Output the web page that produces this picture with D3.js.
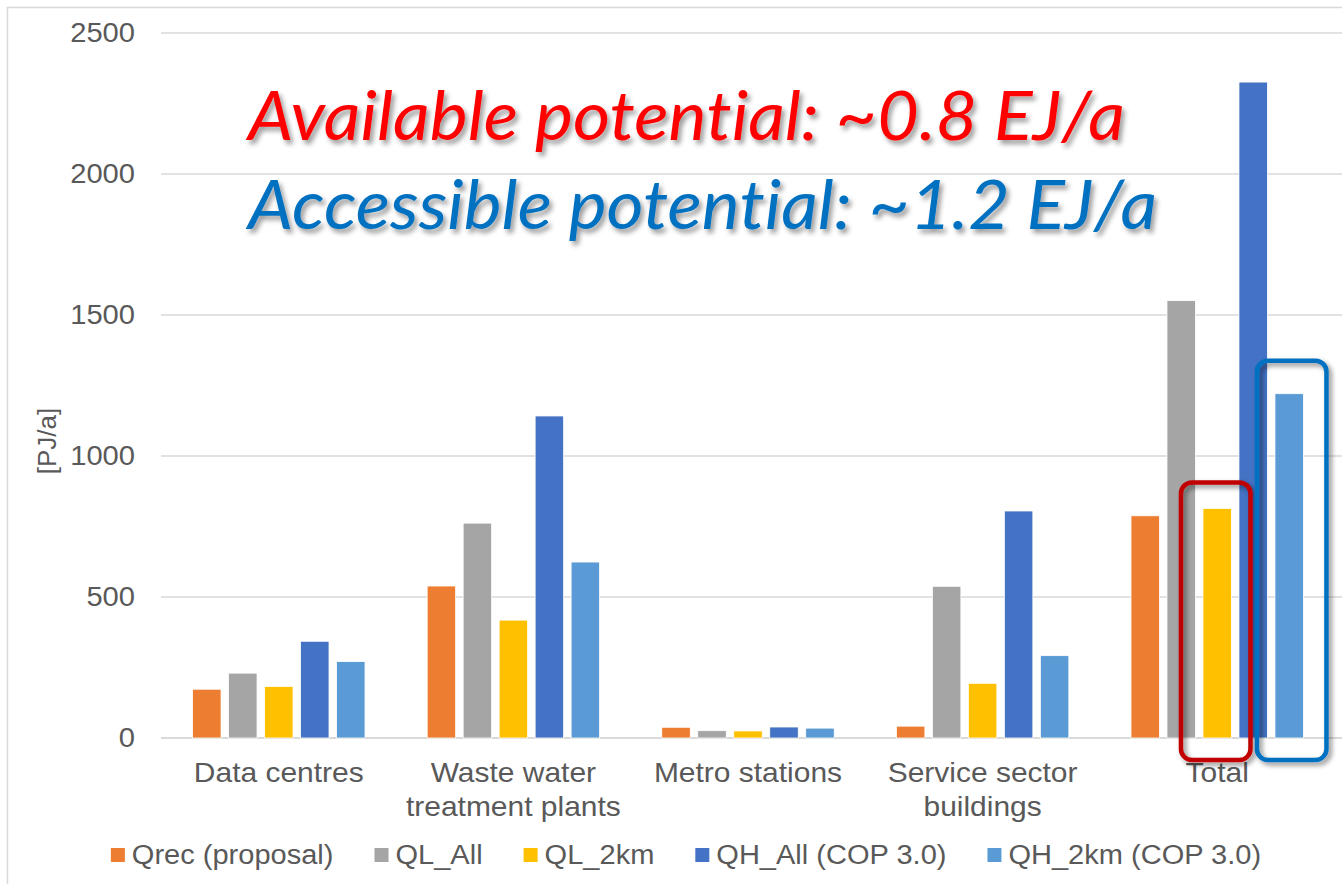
<!DOCTYPE html>
<html>
<head>
<meta charset="utf-8">
<script src="https://cdn.jsdelivr.net/npm/d3@7"></script>
<style>
  html, body { margin: 0; padding: 0; background: #ffffff; }
  svg { display: block; }
  text { font-variant-ligatures: none; }
</style>
</head>
<body>
<svg id="chart" width="1342" height="884"></svg>
<script>
// Heat source categories and series (PJ/a)
const categories = ["Data centres", "Waste water\ntreatment plants", "Metro stations", "Service sector\nbuildings", "Total"];
const seriesNames = ["Qrec (proposal)", "QL_All", "QL_2km", "QH_All (COP 3.0)", "QH_2km (COP 3.0)"];
const seriesColors = ["#ED7D31", "#A5A5A5", "#FFC000", "#4472C4", "#5B9BD5"];
const qrec   = [173, 539, 38, 42, 788];
const qlAll  = [230, 762, 26, 538, 1551];
const ql2km  = [183, 418, 25, 194, 814];
const qhAll  = [343, 1142, 39, 805, 2326];
const qh2km  = [271, 624, 35, 292, 1221];
const yTicks = [0, 500, 1000, 1500, 2000, 2500];
const headlines = [
  { text: "Available potential: ~0.8 EJ/a", color: "#FF0000" },
  { text: "Accessible potential: ~1.2 EJ/a", color: "#0070C0" }
];
// Highlighted bars in the Total group
const highlights = [
  { series: "QL_2km", color: "#C00000", left: 22, right: 19, top: 26 },
  { series: "QH_2km (COP 3.0)", color: "#0070C0", left: 18, right: 23, top: 33 }
];

const seriesValues = [qrec, qlAll, ql2km, qhAll, qh2km];
const rows = categories.map((c, i) => ({
  category: c,
  values: seriesNames.map((s, k) => ({ series: s, value: seriesValues[k][i], color: seriesColors[k] }))
}));

const svg = d3.select("#chart");
const textColor = "#595959";
const font = "'Liberation Sans', Arial, sans-serif";
const stretch = 1.07;   // slightly wide label lettering

// Widen a text element horizontally by a factor
function widen(sel, k) {
  sel.each(function () {
    const len = this.getComputedTextLength();
    d3.select(this).attr("textLength", len * k).attr("lengthAdjust", "spacingAndGlyphs");
  });
}

const defs = svg.append("defs");
const tShadow = defs.append("filter").attr("id", "textShadow")
  .attr("x", "-5%").attr("y", "-30%").attr("width", "110%").attr("height", "160%");
tShadow.append("feDropShadow").attr("dx", 3).attr("dy", 4).attr("stdDeviation", 2.5)
  .attr("flood-color", "#000").attr("flood-opacity", 0.4);
const bShadow = defs.append("filter").attr("id", "boxShadow")
  .attr("x", "-30%").attr("y", "-10%").attr("width", "160%").attr("height", "120%");
bShadow.append("feDropShadow").attr("dx", 3).attr("dy", 3).attr("stdDeviation", 2.5)
  .attr("flood-color", "#000").attr("flood-opacity", 0.45);

// Chart area border
svg.append("rect")
  .attr("x", 7.5).attr("y", 7.5).attr("width", 1400).attr("height", 900)
  .attr("fill", "#fff").attr("stroke", "#D9D9D9").attr("stroke-width", 1.5);

const plotLeft = 161, plotRight = 1335;
const x0 = d3.scaleBand().domain(categories).range([plotLeft, plotRight])
  .paddingInner(0.233).paddingOuter(0.1185);
const x1 = d3.scaleBand().domain(seriesNames).range([0, x0.bandwidth()])
  .paddingInner(0.208).paddingOuter(0.104);
const y = d3.scaleLinear().domain([0, 2500]).range([738, 33]);

// Gridlines
svg.append("g").selectAll("line").data(yTicks).join("line")
  .attr("x1", plotLeft).attr("x2", 1342)
  .attr("y1", d => y(d)).attr("y2", d => y(d))
  .attr("stroke", "#D9D9D9").attr("stroke-width", d => d === 0 ? 2 : 1.5);

// Y axis labels
const yAxis = d3.axisLeft(y).tickValues(yTicks).tickSize(0).tickPadding(0).tickFormat(d3.format("d"));
const yG = svg.append("g").attr("transform", "translate(135,0)").call(yAxis);
yG.select(".domain").remove();
yG.selectAll("text").attr("fill", textColor).attr("font-family", font).attr("font-size", 28);
widen(yG.selectAll("text"), 1.04);

svg.append("text")
  .attr("transform", "translate(56,441) rotate(-90)")
  .attr("text-anchor", "middle").attr("fill", textColor)
  .attr("font-family", font).attr("font-size", 26)
  .text("[PJ/a]");

// Bars
const groups = svg.append("g").selectAll("g").data(rows).join("g")
  .attr("transform", d => `translate(${x0(d.category)},0)`);
groups.selectAll("rect").data(d => d.values).join("rect")
  .attr("x", d => x1(d.series))
  .attr("width", x1.bandwidth())
  .attr("y", d => y(d.value))
  .attr("height", d => y(0) - y(d.value))
  .attr("fill", d => d.color)
  .attr("stroke", "#fff").attr("stroke-width", 0.8);

// Category labels
const xAxis = svg.append("g");
rows.forEach(r => {
  const cxp = x0(r.category) + x0.bandwidth() / 2;
  r.category.split("\n").forEach((l, i) => {
    const t = xAxis.append("text")
      .attr("x", cxp).attr("y", 782 + i * 34)
      .attr("text-anchor", "middle").attr("fill", textColor)
      .attr("font-family", font).attr("font-size", 28)
      .text(l);
    widen(t, stretch);
  });
});

// Highlight frames around the Total 2 km bars
const totalRow = rows[rows.length - 1];
highlights.forEach(h => {
  const v = totalRow.values.find(d => d.series === h.series).value;
  const bx = x0(totalRow.category) + x1(h.series);
  const top = y(v) - h.top;
  svg.append("rect")
    .attr("x", bx - h.left).attr("width", x1.bandwidth() + h.left + h.right)
    .attr("y", top).attr("height", y(0) + 22 - top)
    .attr("rx", 11).attr("ry", 11)
    .attr("fill", "none").attr("stroke", h.color).attr("stroke-width", 4.5)
    .attr("filter", "url(#boxShadow)");
});

// Legend
const legend = svg.append("g");
const items = seriesNames.map((s, i) => {
  const g = legend.append("g");
  g.append("rect").attr("width", 14).attr("height", 14).attr("y", -16).attr("fill", seriesColors[i]);
  const t = g.append("text").attr("x", 21).attr("y", 0).attr("fill", textColor)
    .attr("font-family", font).attr("font-size", 27).text(s);
  const len = t.node().getComputedTextLength() * 1.075;
  t.attr("textLength", len).attr("lengthAdjust", "spacingAndGlyphs");
  return { g, w: 21 + len };
});
const gap = 41;
const total = d3.sum(items, d => d.w) + gap * (items.length - 1);
let cx = 686 - total / 2;
items.forEach(it => {
  it.g.attr("transform", `translate(${cx},864)`);
  cx += it.w + gap;
});

// Headlines
const headY = [140, 229];
const headW = [877, 909];
headlines.forEach((h, i) => {
  svg.append("text")
    .attr("x", 248).attr("y", headY[i])
    .attr("fill", h.color)
    .attr("font-family", "Lato, 'Open Sans', sans-serif")
    .attr("font-style", "italic")
    .attr("font-size", 68)
    .attr("textLength", headW[i]).attr("lengthAdjust", "spacingAndGlyphs")
    .attr("filter", "url(#textShadow)")
    .text(h.text);
});
</script>
</body>
</html>
